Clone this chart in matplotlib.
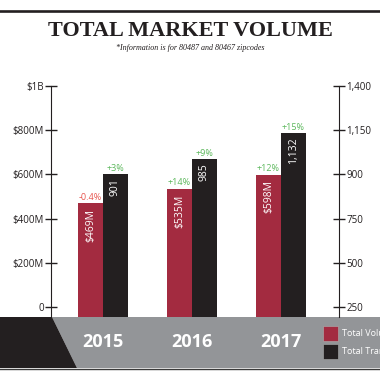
import numpy as np
import matplotlib
matplotlib.use("Agg")
import matplotlib.pyplot as plt
import matplotlib.transforms as mtransforms
from matplotlib.patches import Polygon, Rectangle
from matplotlib.lines import Line2D

years = ["2015", "2016", "2017"]
volume = [469, 535, 598]             # $M
volume_labels = ["$469M", "$535M", "$598M"]
volume_change = ["-0.4%", "+14%", "+12%"]
transactions = [901, 985, 1132]
transaction_labels = ["901", "985", "1,132"]
transaction_change = ["+3%", "+9%", "+15%"]

left_ticks = [0, 200, 400, 600, 800, 1000]
left_ticklabels = ["0", "$200M", "$400M", "$600M", "$800M", "$1B"]
right_ticks = [250, 500, 750, 900, 1150, 1400]
right_ticklabels = ["250", "500", "750", "900", "1,150", "1,400"]

red = "#a32b40"
black = "#231f20"
gray = "#939598"
pos_col = "#5cb85c"
neg_col = "#e8554e"
font = "Open Sans"

W = H = 380.0


def fx(px):
    return px / W


def fy(py):
    return 1 - py / H


fig = plt.figure(figsize=(3.8, 3.8), dpi=100)

# header
fig.add_artist(Line2D([0, 1], [fy(11), fy(11)], color=black, lw=1.9))
fig.text(0.5, fy(31), "TOTAL MARKET VOLUME", ha="center", va="center",
         family="Liberation Serif", weight="bold", size=16, color=black)
fig.text(0.5, fy(48), "*Information is for 80487 and 80467 zipcodes", ha="center",
         va="center", family="Liberation Serif", style="italic", size=5.8, color=black)

# bottom band (behind the axes so the year labels show)
fig.add_artist(Polygon([(fx(52), fy(317)), (1, fy(317)), (1, fy(368)), (fx(77), fy(368))],
                       closed=True, facecolor=gray, edgecolor="none",
                       transform=fig.transFigure, zorder=-2))
fig.add_artist(Polygon([(0, fy(317)), (fx(52), fy(317)), (fx(77), fy(368)), (0, fy(368))],
                       closed=True, facecolor=black, edgecolor="none",
                       transform=fig.transFigure, zorder=-2))
fig.add_artist(Line2D([0, 1], [fy(369), fy(369)], color="#3a3a3a", lw=1.0, zorder=-2))

ax = fig.add_axes([fx(51), fy(317), fx(339) - fx(51), (317 - 86) / H])
ax2 = ax.twinx()

# right axis uses the (uneven) tick values as equally spaced positions
src = [0, 250, 500, 750, 900, 1150, 1400, 3000]
dst = [-200, 0, 200, 400, 600, 800, 1000, 2280]


def fwd(v):
    return np.interp(v, src, dst)


def inv(v):
    return np.interp(v, dst, src)


ax2.set_yscale("function", functions=(fwd, inv))

x = np.arange(len(years))
w = 0.28
ybot = -45
ax.set_ylim(ybot, 1000)
ax2.set_ylim(float(inv(ybot)), 1400)
ax.set_xlim(-0.584, 2.652)

ax.bar(x - w / 2, np.array(volume) - ybot, bottom=ybot, width=w, color=red)
b2 = float(inv(ybot))
ax2.bar(x + w / 2, np.array(transactions) - b2, bottom=b2, width=w, color=black)

for i in range(len(years)):
    ax.annotate(volume_labels[i], (x[i] - w / 2, volume[i]), xytext=(0, -4),
                textcoords="offset points", rotation=90, ha="center", va="top",
                color="white", size=7.5, family=font)
    ax.annotate(volume_change[i], (x[i] - w / 2, volume[i]), xytext=(0, 1),
                textcoords="offset points", ha="center", va="bottom",
                color=neg_col if volume_change[i].startswith("-") else pos_col,
                size=6.5, family=font)
    ax2.annotate(transaction_labels[i], (x[i] + w / 2, transactions[i]), xytext=(0, -3),
                 textcoords="offset points", rotation=90, ha="center", va="top",
                 color="white", size=7.5, family=font)
    ax2.annotate(transaction_change[i], (x[i] + w / 2, transactions[i]), xytext=(0, 1),
                 textcoords="offset points", ha="center", va="bottom",
                 color=neg_col if transaction_change[i].startswith("-") else pos_col,
                 size=6.5, family=font)

trans = mtransforms.blended_transform_factory(ax.transData, ax.transAxes)
for i, yr in enumerate(years):
    ax.text(x[i], -25 / 231, yr, transform=trans, ha="center", va="center",
            color="white", size=13, weight="bold", family=font, clip_on=False)

for a in (ax, ax2):
    for s in ("top", "bottom"):
        a.spines[s].set_visible(False)
    a.set_xticks([])
    a.patch.set_visible(False)
ax.spines["right"].set_visible(False)
ax2.spines["left"].set_visible(False)
ax.spines["left"].set_color(black)
ax2.spines["right"].set_color(black)

ax.set_yticks(left_ticks)
ax.set_yticklabels(left_ticklabels, family=font, size=7, color=black)
ax.tick_params(axis="y", direction="inout", length=8.5, width=1, color=black, pad=1)
ax2.set_yticks(right_ticks)
ax2.set_yticklabels(right_ticklabels, family=font, size=7, color=black)
ax2.yaxis.set_minor_locator(matplotlib.ticker.NullLocator())
ax2.tick_params(axis="y", direction="inout", length=8.5, width=1, color=black, pad=1)

# legend (labels run off the right edge, as in the original)
fig.add_artist(Rectangle((fx(323), fy(341)), fx(15), 15 / H, facecolor=red,
                         edgecolor="#b0b0b0", lw=0.4, transform=fig.transFigure))
fig.add_artist(Rectangle((fx(323), fy(359)), fx(15), 15 / H, facecolor=black,
                         edgecolor="#b0b0b0", lw=0.4, transform=fig.transFigure))
fig.text(fx(342), fy(333.5), "Total Volume", ha="left", va="center", color="white",
         size=6.5, family=font)
fig.text(fx(342), fy(351.5), "Total Transactions", ha="left", va="center", color="white",
         size=6.5, family=font)

fig.savefig("out.png", dpi=100)
